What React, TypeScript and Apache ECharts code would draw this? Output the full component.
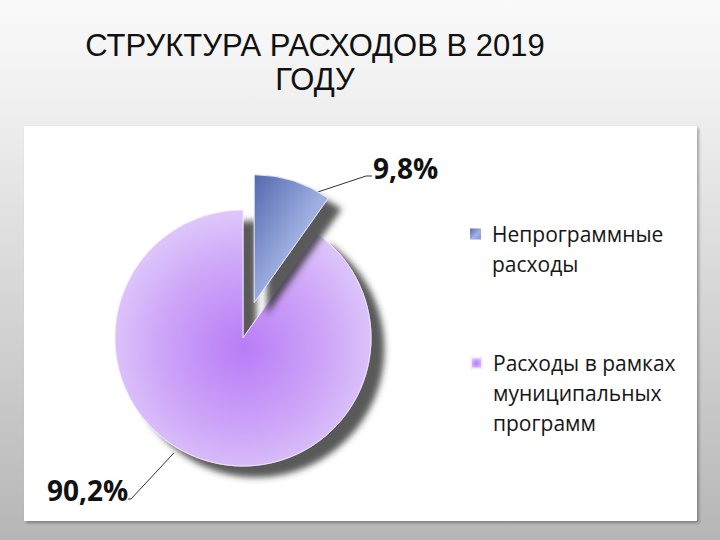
import React, { useEffect, useRef } from "react";
import * as echarts from "echarts";

const titleText = "СТРУКТУРА РАСХОДОВ В 2019\nГОДУ";
const categories = ["Непрограммные расходы", "Расходы в рамках муниципальных программ"];
const shares = [9.8, 90.2];
const valueLabels = ["9,8%", "90,2%"];
const legendLines = [
  ["Непрограммные", "расходы"],
  ["Расходы в рамках", "муниципальных", "программ"],
];

const PIE_CX = 243;
const PIE_CY = 338;
const PIE_R = 128;
const EXPLODE = 37;

const sliceColors = [
  {
    type: "linear", x: 0, y: 0, x2: 1, y2: 1,
    colorStops: [
      { offset: 0, color: "#5469ae" },
      { offset: 0.55, color: "#9fb0e2" },
      { offset: 1, color: "#8598d4" },
    ],
  },
  {
    type: "radial", x: 0.5, y: 0.54, r: 0.55,
    colorStops: [
      { offset: 0, color: "#b97cf7" },
      { offset: 0.6, color: "#cea6f8" },
      { offset: 1, color: "#dfc9fb" },
    ],
  },
];

const hidden = {
  color: "rgba(0,0,0,0)",
  borderWidth: 0,
  shadowColor: "rgba(0,0,0,0)",
  shadowBlur: 0,
};

export default function App() {
  const ref = useRef<HTMLDivElement>(null);
  useEffect(() => {
    if (!ref.current) return;
    const chart = echarts.init(ref.current, undefined, { renderer: "svg" });

    const total = shares.reduce((a, b) => a + b, 0);
    const midRad = (shares[0] / total) * Math.PI; // half of slice 0 angle
    const explodedCenter = [
      PIE_CX + EXPLODE * Math.sin(midRad),
      PIE_CY - EXPLODE * Math.cos(midRad),
    ];
    const arcPoint = (c: number[], r: number, deg: number) => {
      const a = (deg * Math.PI) / 180;
      return [c[0] + r * Math.sin(a), c[1] - r * Math.cos(a)];
    };

    const legendTextStyle = {
      fontFamily: "Open Sans",
      fontSize: 21,
      lineHeight: 30,
      color: "#161616",
      padding: [0, 0, 0, 6],
    };
    const makeLegend = (i: number, top: number) => ({
      show: true,
      orient: "vertical",
      left: 465,
      top,
      icon: "rect",
      itemWidth: 11,
      itemHeight: 11,
      selectedMode: false,
      data: [{ name: categories[i], itemStyle: { color: sliceColors[i] } }],
      formatter: () => "\n".repeat(legendLines[i].length - 1) + legendLines[i].join("\n"),
      textStyle: legendTextStyle,
    });

    const baseItemStyle = {
      borderColor: "rgba(245,235,255,0.9)",
      borderWidth: 1,
      shadowColor: "rgba(50,50,50,0.8)",
      shadowBlur: 6,
      shadowOffsetX: 13,
      shadowOffsetY: 11,
    };
    const labelStyle = {
      show: true,
      position: "outside",
      fontFamily: "Open Sans",
      fontWeight: "bold",
      fontSize: 28,
      color: "#111111",
    };
    const makePie = (visibleIndex: number, center: number[], labelLayout: any) => ({
      type: "pie",
      center,
      radius: PIE_R,
      startAngle: 90,
      clockwise: true,
      selectedMode: false,
      emphasis: { disabled: true },
      avoidLabelOverlap: false,
      label: { ...labelStyle, formatter: (p: any) => valueLabels[p.dataIndex] },
      labelLine: { show: true, lineStyle: { color: "#333333", width: 1 } },
      labelLayout,
      itemStyle: baseItemStyle,
      data: categories.map((name, i) => ({
        name,
        value: shares[i],
        itemStyle: i === visibleIndex ? { color: sliceColors[i] } : hidden,
        label: i === visibleIndex ? {} : { show: false },
        labelLine: i === visibleIndex ? {} : { show: false },
      })),
    });

    chart.setOption({
      animation: false,
      backgroundColor: {
        type: "linear", x: 0, y: 0, x2: 0, y2: 1,
        colorStops: [
          { offset: 0, color: "#fafafa" },
          { offset: 0.2, color: "#efefef" },
          { offset: 1, color: "#b6b6b6" },
        ],
      },
      title: {
        text: titleText,
        left: 310,
        top: 23,
        textAlign: "center",
        textStyle: {
          fontFamily: "Liberation Sans",
          fontSize: 31,
          fontWeight: "normal",
          lineHeight: 34,
          color: "#111111",
        },
      },
      graphic: [
        {
          type: "rect",
          z: -10,
          shape: { x: 24, y: 126, width: 673, height: 395 },
          style: {
            fill: "#ffffff",
            shadowColor: "rgba(0,0,0,0.3)",
            shadowBlur: 3,
            shadowOffsetX: 2,
            shadowOffsetY: 2,
          },
        },
      ],
      legend: [makeLegend(0, 184), makeLegend(1, 283)],
      series: [
        makePie(1, [PIE_CX, PIE_CY], (params: any) => {
          if (params.dataIndex !== 1) return {};
          return {
            x: 47, y: 490, align: "left", verticalAlign: "middle",
            labelLinePoints: [arcPoint([PIE_CX, PIE_CY], PIE_R + 6, 211), [131, 499], [128, 499]],
          };
        }),
        makePie(0, explodedCenter, (params: any) => {
          if (params.dataIndex !== 0) return {};
          return {
            x: 373, y: 168, align: "left", verticalAlign: "middle",
            labelLinePoints: [arcPoint(explodedCenter, PIE_R, 30), [366, 176], [372, 176]],
          };
        }),
      ],
    });
    return () => chart.dispose();
  }, []);
  return (
    <div
      ref={ref}
      style={{ position: "fixed", left: 0, top: 0, width: 720, height: 540 }}
    />
  );
}
